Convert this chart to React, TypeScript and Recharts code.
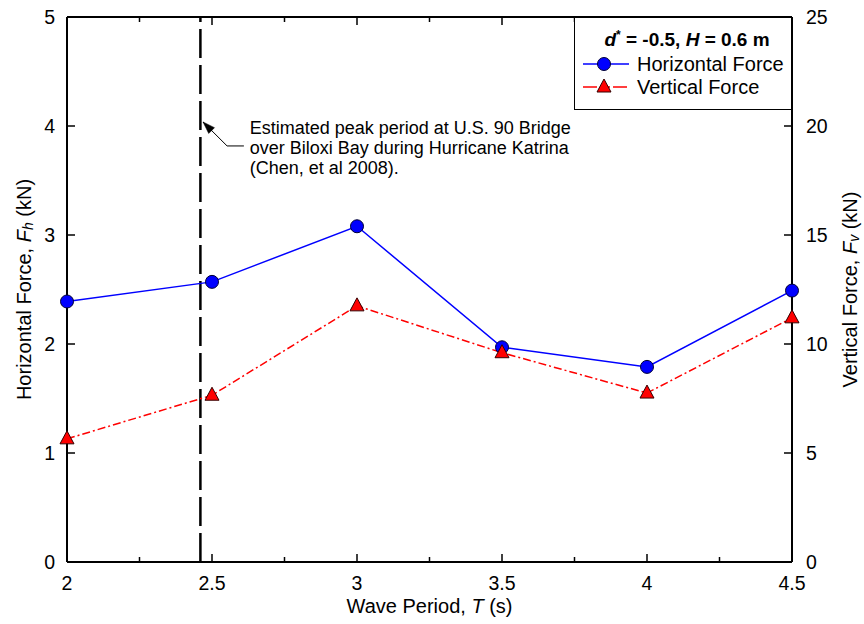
import React from 'react';
import { ComposedChart, Line, XAxis, YAxis, ReferenceLine, ReferenceDot, Legend, Label } from 'recharts';

const periods = [2, 2.5, 3, 3.5, 4, 4.5];
const horizontalForce = [2.39, 2.57, 3.08, 1.97, 1.79, 2.49];
const verticalForce = [5.65, 7.65, 11.75, 9.6, 7.75, 11.2];
const xTicks = [2, 2.25, 2.5, 2.75, 3, 3.25, 3.5, 3.75, 4, 4.25, 4.5];
const xMajorTicks = [2, 2.5, 3, 3.5, 4, 4.5];
const leftTicks = [0, 1, 2, 3, 4, 5];
const rightTicks = [0, 5, 10, 15, 20, 25];
const peakPeriod = 2.46;
const annotationLines = [
  'Estimated peak period at U.S. 90 Bridge',
  'over Biloxi Bay during Hurricane Katrina',
  '(Chen, et al 2008).',
];
const annotationAnchor = { x: 2.63, y: 3.927 };
const arrowTip = { x: 2.469, y: 4.037 };
const arrowElbow = { x: 2.552, y: 3.817 };
const arrowTail = { x: 2.61, y: 3.817 };

const data = periods.map((t, i) => ({ t, fh: horizontalForce[i], fv: verticalForce[i] }));

const FONT = '"Liberation Sans", Arial, sans-serif';
const FS = 19.5;
const TS = 20;
const X_MARGIN = 14;
const Y_MARGIN = 12;
const MAJOR_LEN = 8;
const MINOR_LEN = 5;

const BottomTick = (props: any) => {
  const { x, y, payload } = props;
  const major = xMajorTicks.includes(payload.value);
  const axisY = y - X_MARGIN;
  return (
    <g>
      <line x1={x} x2={x} y1={axisY} y2={axisY - (major ? MAJOR_LEN : MINOR_LEN)} stroke="#000" strokeWidth={1.5} />
      {major && (
        <text x={x} y={y} dy="0.71em" textAnchor="middle" fontFamily={FONT} fontSize={FS} fill="#000">
          {payload.value}
        </text>
      )}
    </g>
  );
};

const TopTick = (props: any) => {
  const { x, y, payload } = props;
  const major = xMajorTicks.includes(payload.value);
  return <line x1={x} x2={x} y1={y} y2={y + (major ? MAJOR_LEN : MINOR_LEN)} stroke="#000" strokeWidth={1.5} />;
};

const LeftTick = (props: any) => {
  const { x, y, payload } = props;
  const axisX = x + Y_MARGIN;
  return (
    <g>
      <line x1={axisX} x2={axisX + MAJOR_LEN} y1={y} y2={y} stroke="#000" strokeWidth={1.5} />
      <text x={x} y={y} dy="0.355em" textAnchor="end" fontFamily={FONT} fontSize={FS} fill="#000">
        {payload.value}
      </text>
    </g>
  );
};

const RightTick = (props: any) => {
  const { x, y, payload } = props;
  const axisX = x - 14;
  return (
    <g>
      <line x1={axisX} x2={axisX - MAJOR_LEN} y1={y} y2={y} stroke="#000" strokeWidth={1.5} />
      <text x={x} y={y} dy="0.355em" textAnchor="start" fontFamily={FONT} fontSize={FS} fill="#000">
        {payload.value}
      </text>
    </g>
  );
};

const XTitle = (props: any) => {
  const vb = props.viewBox || {};
  const cx = vb.x + vb.width / 2;
  return (
    <text x={cx} y={vb.y + 51} textAnchor="middle" fontFamily={FONT} fontSize={TS} fill="#000">
      Wave Period, <tspan fontStyle="italic">T</tspan> (s)
    </text>
  );
};

const YTitle = (props: any) => {
  const vb = props.viewBox || {};
  const { offsetX, main, sub } = props;
  const cx = vb.x + offsetX;
  const cy = vb.y + vb.height / 2;
  return (
    <text
      x={cx}
      y={cy}
      textAnchor="middle"
      dominantBaseline="central"
      transform={`rotate(-90, ${cx}, ${cy})`}
      fontFamily={FONT}
      fontSize={TS}
      fill="#000"
    >
      {main}
      <tspan fontStyle="italic">F</tspan>
      <tspan fontStyle="italic" fontSize={14} dy={4}>{sub}</tspan>
      <tspan dy={-4}> (kN)</tspan>
    </text>
  );
};

const CircleDot = (props: any) => {
  const { cx, cy } = props;
  if (cx == null || cy == null) return null;
  return <circle cx={cx} cy={cy} r={6.5} fill="#0000ff" stroke="#000033" strokeWidth={1} />;
};

const TriangleDot = (props: any) => {
  const { cx, cy } = props;
  if (cx == null || cy == null) return null;
  const pts = `${cx},${cy - 8} ${cx + 7},${cy + 5} ${cx - 7},${cy + 5}`;
  return <polygon points={pts} fill="#ff0000" stroke="#330000" strokeWidth={1} />;
};

const AnnotationText = (props: any) => {
  const { cx, cy } = props;
  return (
    <text x={cx} y={cy} fontFamily={FONT} fontSize={18} fill="#000">
      {annotationLines.map((l, i) => (
        <tspan key={i} x={cx} dy={i === 0 ? 0 : 20}>
          {l}
        </tspan>
      ))}
    </text>
  );
};

const ArrowHead = (props: any) => {
  const { cx, cy } = props;
  const pts = `${cx},${cy} ${cx + 11.5},${cy + 5.7} ${cx + 5.7},${cy + 11.5}`;
  return <polygon points={pts} fill="#000" stroke="#000" strokeWidth={0.5} />;
};

const LegendBox = () => (
  <div
    style={{
      position: 'relative',
      width: 218,
      height: 93,
      boxSizing: 'border-box',
      border: '1.5px solid #000',
      background: '#fff',
      fontFamily: FONT,
      fontSize: TS,
      color: '#000',
    }}
  >
    <div style={{ position: 'absolute', top: 11, left: 4, width: '100%', textAlign: 'center', fontWeight: 'bold', lineHeight: '22px', fontSize: 19 }}>
      <i>d</i>
      <sup style={{ fontSize: 12, lineHeight: 0 }}>*</sup> = -0.5, <i>H</i> = 0.6 m
    </div>
    <div style={{ position: 'absolute', top: 34, left: 8, height: 24, display: 'flex', alignItems: 'center', whiteSpace: 'nowrap' }}>
      <svg width={46} height={24}>
        <line x1={0} x2={46} y1={12} y2={12} stroke="#0000ff" strokeWidth={1.5} />
        <circle cx={21} cy={12} r={6.5} fill="#0000ff" stroke="#000033" strokeWidth={1} />
      </svg>
      <span style={{ marginLeft: 8 }}>Horizontal Force</span>
    </div>
    <div style={{ position: 'absolute', top: 57, left: 8, height: 24, display: 'flex', alignItems: 'center', whiteSpace: 'nowrap' }}>
      <svg width={46} height={24}>
        <line x1={0} x2={46} y1={12} y2={12} stroke="#ff0000" strokeWidth={1.5} strokeDasharray="14 3 3 3 4 3" />
        <polygon points="21,4 28,17 14,17" fill="#ff0000" stroke="#330000" strokeWidth={1} />
      </svg>
      <span style={{ marginLeft: 8 }}>Vertical Force</span>
    </div>
  </div>
);

export default function App() {
  return (
    <div style={{ position: 'fixed', left: 0, top: 0, width: 864, height: 624, background: '#fff' }}>
      <ComposedChart width={864} height={624} data={data} margin={{ top: 0, right: 0, bottom: 0, left: 0 }}>
        <XAxis
          dataKey="t"
          type="number"
          xAxisId="bottom"
          domain={[2, 4.5]}
          ticks={xTicks}
          interval={0}
          height={62}
          tickSize={0}
          tickMargin={X_MARGIN}
          tickLine={false}
          tick={<BottomTick />}
          axisLine={{ stroke: '#000', strokeWidth: 2 }}
        >
          <Label content={<XTitle />} />
        </XAxis>
        <XAxis
          dataKey="t"
          type="number"
          xAxisId="top"
          orientation="top"
          domain={[2, 4.5]}
          ticks={xTicks}
          interval={0}
          height={17}
          tickSize={0}
          tickMargin={0}
          tickLine={false}
          tick={<TopTick />}
          axisLine={{ stroke: '#000', strokeWidth: 2 }}
        />
        <YAxis
          yAxisId="left"
          type="number"
          domain={[0, 5]}
          ticks={leftTicks}
          interval={0}
          width={67}
          tickSize={0}
          tickMargin={Y_MARGIN}
          tickLine={false}
          tick={<LeftTick />}
          axisLine={{ stroke: '#000', strokeWidth: 2 }}
        >
          <Label content={<YTitle offsetX={24} main="Horizontal Force, " sub="h" />} />
        </YAxis>
        <YAxis
          yAxisId="right"
          orientation="right"
          type="number"
          domain={[0, 25]}
          ticks={rightTicks}
          interval={0}
          width={72}
          tickSize={0}
          tickMargin={14}
          tickLine={false}
          tick={<RightTick />}
          axisLine={{ stroke: '#000', strokeWidth: 2 }}
        >
          <Label content={<YTitle offsetX={58} main="Vertical Force, " sub="v" />} />
        </YAxis>
        <ReferenceLine
          x={peakPeriod}
          xAxisId="bottom"
          yAxisId="left"
          stroke="#000"
          strokeWidth={2.5}
          strokeDasharray="29 7"
        />
        <ReferenceLine
          xAxisId="bottom"
          yAxisId="left"
          segment={[arrowTail, arrowElbow]}
          stroke="#000"
          strokeWidth={1}
        />
        <ReferenceLine
          xAxisId="bottom"
          yAxisId="left"
          segment={[arrowElbow, arrowTip]}
          stroke="#000"
          strokeWidth={1}
        />
        <ReferenceDot xAxisId="bottom" yAxisId="left" x={arrowTip.x} y={arrowTip.y} shape={<ArrowHead />} />
        <ReferenceDot
          xAxisId="bottom"
          yAxisId="left"
          x={annotationAnchor.x}
          y={annotationAnchor.y}
          shape={<AnnotationText />}
        />
        <Line
          xAxisId="bottom"
          yAxisId="left"
          dataKey="fh"
          type="linear"
          stroke="#0000ff"
          strokeWidth={1.5}
          dot={<CircleDot />}
          activeDot={false}
          isAnimationActive={false}
        />
        <Line
          xAxisId="bottom"
          yAxisId="right"
          dataKey="fv"
          type="linear"
          stroke="#ff0000"
          strokeWidth={1.5}
          strokeDasharray="8 3 2 3"
          dot={<TriangleDot />}
          activeDot={false}
          isAnimationActive={false}
        />
        <Legend
          layout="horizontal"
          verticalAlign="middle"
          align="center"
          content={<LegendBox />}
          wrapperStyle={{ position: 'absolute', left: 574, top: 17, width: 218, height: 93 }}
        />
      </ComposedChart>
    </div>
  );
}
